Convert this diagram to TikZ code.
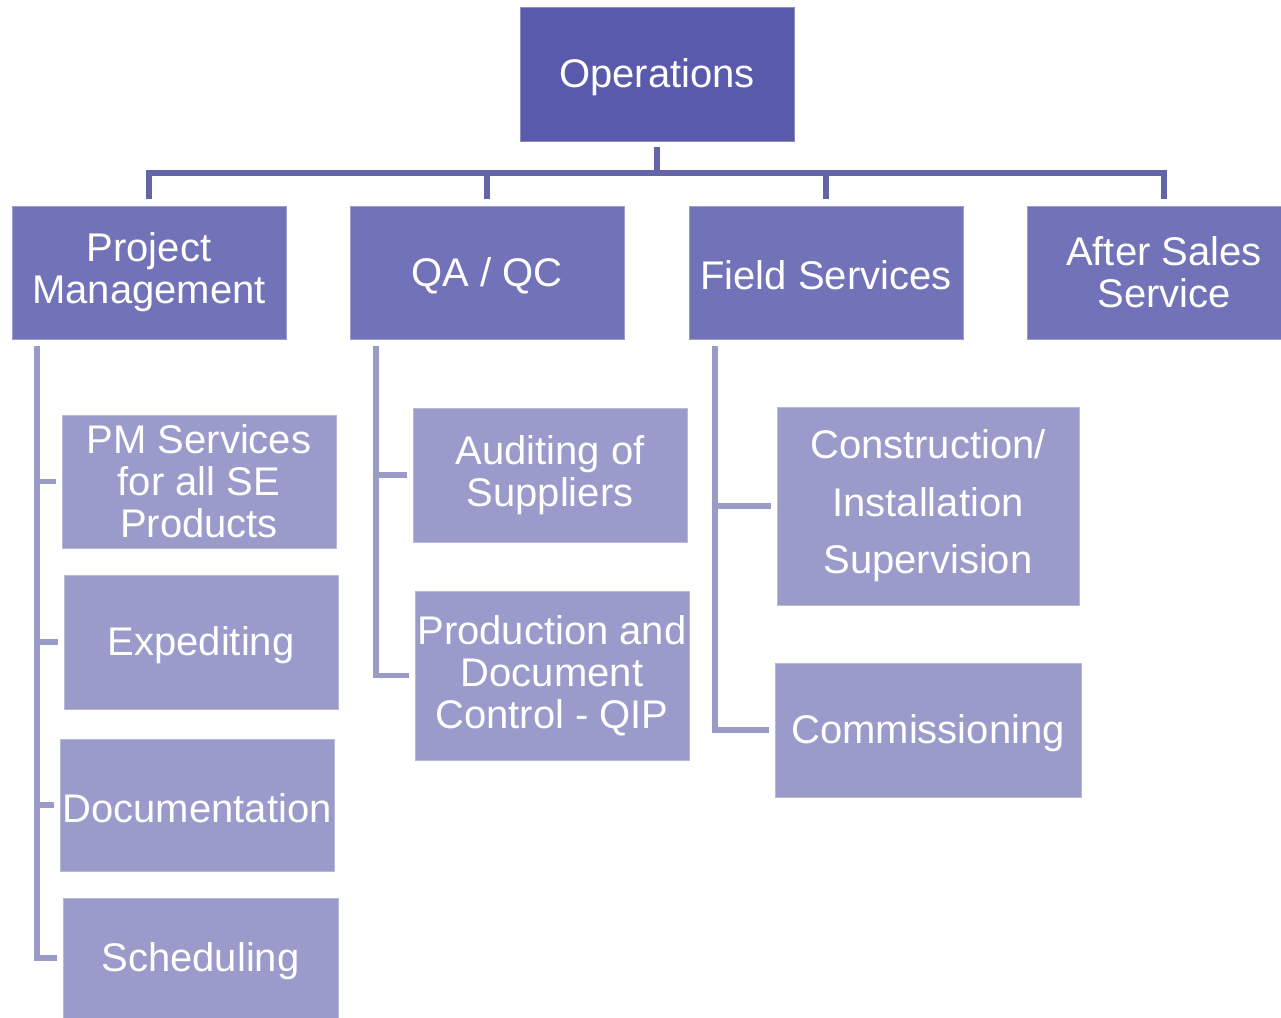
\documentclass[tikz,border=0pt]{standalone}
\usepackage{fontspec}
\setmainfont{Liberation Sans}
\definecolor{opsfill}{HTML}{5A5AAD}
\definecolor{midfill}{HTML}{7272B9}
\definecolor{lowfill}{HTML}{9A9ACB}
\definecolor{topline}{HTML}{6464A9}
\definecolor{sideline}{HTML}{9A9AC6}
\tikzset{
  box/.style={minimum width=274, minimum height=134, inner sep=0pt, anchor=center,
    align=center, text=white, font=\fontsize{40}{42}\selectfont,
    execute at begin node={\rule{0pt}{35pt}}},
  opsbox/.style={box, fill=opsfill, draw=opsfill!70!white, line width=0.8pt},
  midbox/.style={box, fill=midfill, draw=midfill!70!white, line width=0.8pt},
  lowbox/.style={box, fill=lowfill, draw=lowfill!70!white, line width=0.8pt},
  busline/.style={draw=topline, line width=6pt},
  sidelink/.style={draw=sideline, line width=5.5pt, shorten >=6pt}
}
\begin{document}
\begin{tikzpicture}[x=1pt, y=-1pt]
\useasboundingbox (0,0) rectangle (1281,1017);
\clip (0,0) rectangle (1281,1017);
\fill[white] (0,0) rectangle (1281,1017);

% top level
\node[opsbox] (ops) at (657,74) {Operations};

% second level
\node[midbox, minimum height=133] (pm) at (149,272.5) {Project\\Management};
\node[midbox, minimum height=133] (qa) at (487,272.5) {QA / QC};
\node[midbox, minimum height=133] (fs) at (826,272.5) {Field Services};
\node[midbox, minimum height=133] (as) at (1164,272.5) {After Sales\\Service};

% third level
\node[lowbox, minimum height=133] (psvc) at (199,481.5) {PM Services\\for all SE\\Products};
\node[lowbox] (exped) at (201,642) {Expediting};
\node[lowbox, minimum height=132] (doc) at (197,805) {Documentation};
\node[lowbox, minimum width=275, minimum height=120] (sched) at (200.5,958) {Scheduling};

\node[lowbox] (audit) at (550,475) {Auditing of\\Suppliers};
\node[lowbox, minimum height=169] (prod) at (552,675.5) {Production and\\Document\\Control - QIP};

\node[lowbox, minimum width=302, minimum height=198, font=\fontsize{40}{57.5}\selectfont] (constr) at (928,506) {Construction/\\Installation\\Supervision};
\node[lowbox, minimum width=306] (comm) at (928,730) {Commissioning};

% bus connectors
\coordinate (bus) at (657,173);
\draw[busline, shorten <=6pt] (ops) -- (bus);
\draw[busline, shorten >=7pt] (bus) -| (pm);
\draw[busline, shorten >=7pt] (bus) -| (qa);
\draw[busline, shorten >=7pt] (bus) -| (fs);
\draw[busline, shorten >=7pt] (bus) -| (as);

% side lines
\coordinate (pmv) at (37,346);
\coordinate (qav) at (376,346);
\coordinate (fsv) at (715,346);
\draw[sidelink] (pmv) |- (psvc);
\draw[sidelink] (pmv) |- (exped);
\draw[sidelink] (pmv) |- (doc);
\draw[sidelink] (pmv) |- (sched);
\draw[sidelink] (qav) |- (audit);
\draw[sidelink] (qav) |- (prod);
\draw[sidelink] (fsv) |- (constr);
\draw[sidelink] (fsv) |- (comm);
\end{tikzpicture}
\end{document}
